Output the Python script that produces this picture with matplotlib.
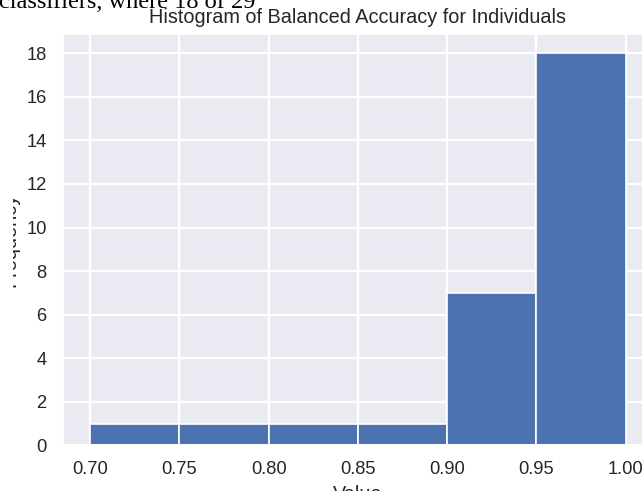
import numpy as np
import matplotlib
matplotlib.use('Agg')
import matplotlib.pyplot as plt
import seaborn as sns
from matplotlib.patches import Rectangle

# histogram bins and counts (29 individuals in total)
bin_edges = [0.70, 0.75, 0.80, 0.85, 0.90, 0.95, 1.00]
counts = [1, 1, 1, 1, 7, 18]
title = 'Histogram of Balanced Accuracy for Individuals'
x_label = 'Value'
y_label = 'Frequency'
caption = 'classifiers, where 18 of 29'

sns.set_theme(style='darkgrid')
plt.rcParams['font.family'] = ['Liberation Sans', 'DejaVu Sans']

fig = plt.figure(figsize=(6.42, 4.91), dpi=100)
ax = fig.add_axes([0.0986, 0.0931, 0.9178, 0.8383])

# one value per bin, weighted by its count
edges = np.array(bin_edges)
centers = (edges[:-1] + edges[1:]) / 2
ax.hist(centers, bins=edges, weights=counts, color='#4C72B0',
        edgecolor='white', linewidth=1.2)

ax.set_yticks(np.arange(0, 19, 2))
ax.set_xticks(edges)
ax.set_xticklabels(['%.2f' % v for v in edges])
ax.tick_params(axis='both', length=0, labelsize=13.2, colors='#262626')
ax.tick_params(axis='x', pad=11.0)
ax.tick_params(axis='y', pad=12.0)
ax.grid(True, color='white', linewidth=1.7)
ax.set_axisbelow(True)

ax.set_title(title, fontsize=14.3, color='#262626', pad=7.5)
ax.set_xlabel(x_label, fontsize=14.3, color='#262626', labelpad=5)
ax.set_ylabel(y_label, fontsize=14.3, color='#262626', labelpad=5)

# page margin to the left of the embedded chart
fig.patches.append(Rectangle((0, 0), 12.7 / 642, 1, transform=fig.transFigure,
                             facecolor='white', edgecolor='none', zorder=1))

# line of surrounding document text above the chart
fig.text(-1 / 642, 1 - 8.3 / 491, caption, family='Liberation Serif',
         fontsize=17.6, color='black', va='baseline', ha='left', zorder=2)

fig.savefig('out.png', dpi=100)
